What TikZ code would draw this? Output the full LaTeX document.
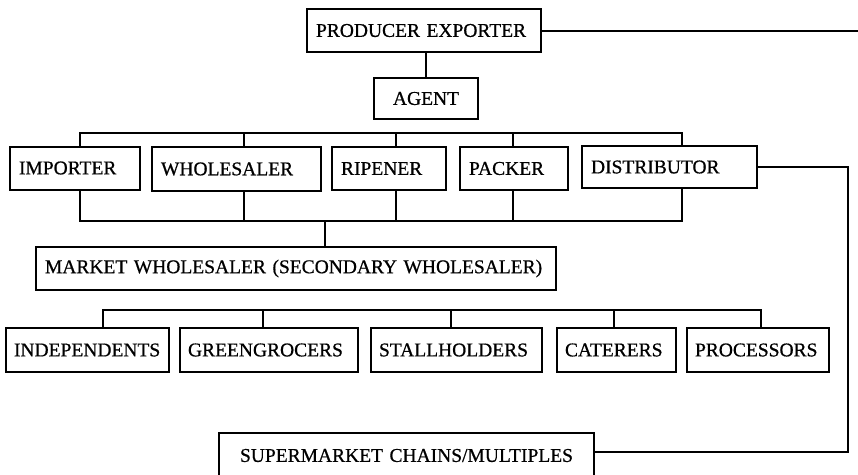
\documentclass[tikz,border=0pt]{standalone}
\usepackage{fontspec}
\setmainfont{Liberation Serif}
\newfontfamily\boxfont{Liberation Serif}[FakeBold=0.7]
\tikzset{
  box/.style={draw, line width=2pt, inner xsep=9pt, inner ysep=0pt, align=left,
    minimum height=43pt, font=\boxfont\fontsize{19.5}{22}\selectfont},
  link/.style={line width=2pt, line cap=rect}
}
\begin{document}
\begin{tikzpicture}[x=1pt,y=-1pt]
\useasboundingbox (0,0) rectangle (858,474);

% Producer and agent
\node[box,text width=216pt] (PE) at (424,30.5) {PRODUCER EXPORTER};
\node[box,text width=86pt,align=center,minimum height=41pt] (AG) at (426,98.5) {AGENT};
\draw[link] (AG.north) -- (AG.north |- PE.south);
\coordinate (PEend) at (858,30.5);
\draw[link] (PE.east) -- (PEend);

% Second row
\node[box,text width=112pt] (IM) at (75,168) {IMPORTER};
\node[box,text width=151pt,minimum height=44pt] (WH) at (236.5,169) {WHOLESALER};
\node[box,text width=96pt] (RI) at (389,168.5) {RIPENER};
\node[box,text width=90pt] (PA) at (514,168.5) {PACKER};
\node[box,text width=157pt,minimum height=42pt] (DI) at (669.5,167) {DISTRIBUTOR};

% Market wholesaler
\node[box,text width=502pt] (MW) at (296,268.5) {MARKET WHOLESALER (SECONDARY WHOLESALER)};

% Buses above and below the second row
\foreach \n/\x in {IM/80,WH/244,RI/396,PA/513,DI/682} {
  \coordinate (t\n) at (\x,133);
  \coordinate (b\n) at (\x,221);
  \draw[link] (t\n) -- (t\n |- \n.north);
  \draw[link] (b\n) -- (b\n |- \n.south);
}
\draw[link] (tIM) -- (tDI);
\draw[link] (bIM) -- (bDI);
\coordinate (bMW) at (325,221);
\draw[link] (bMW) -- (bMW |- MW.north);

% Retail row
\node[box,inner xsep=8pt,text width=147pt,minimum height=44pt] (IN) at (87.5,350) {INDEPENDENTS};
\node[box,inner xsep=8pt,text width=162pt,minimum height=44pt] (GR) at (269,350) {GREENGROCERS};
\node[box,inner xsep=8pt,text width=155pt,minimum height=44pt] (ST) at (456.5,350) {STALLHOLDERS};
\node[box,inner xsep=8pt,text width=103pt,minimum height=44pt] (CA) at (616.5,350) {CATERERS};
\node[box,inner xsep=8pt,text width=126pt,minimum height=44pt] (PR) at (758,350) {PROCESSORS};
\foreach \n/\x in {IN/103,GR/263,ST/451,CA/614,PR/761} {
  \coordinate (c\n) at (\x,310);
  \draw[link] (c\n) -- (c\n |- \n.north);
}
\draw[link] (cIN) -- (cPR);

% Supermarkets, fed by the distributor
\node[box,text width=357pt,align=center,minimum height=45pt] (SM) at (406.5,455.5) {SUPERMARKET CHAINS/MULTIPLES};
\coordinate (k) at (848,452);
\draw[link] (DI.east) -| (k) -- (SM.east |- k);
\end{tikzpicture}
\end{document}
